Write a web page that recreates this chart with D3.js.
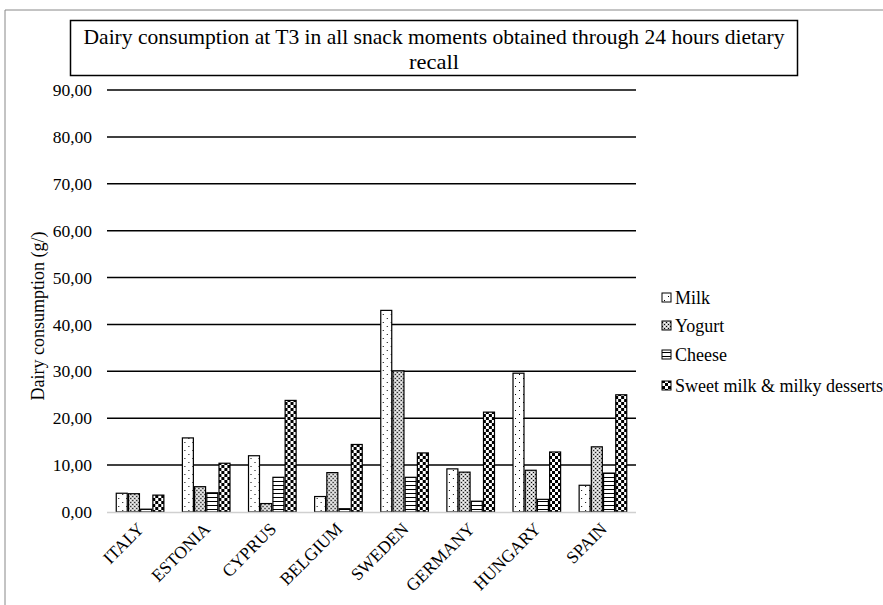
<!DOCTYPE html>
<html><head><meta charset="utf-8">
<script src="https://cdn.jsdelivr.net/npm/d3@7/dist/d3.min.js"></script>
<style>body{margin:0;background:#fff}svg{display:block}</style>
</head><body>
<svg id="c" width="883" height="605"></svg>
<script>
const categories = ["ITALY","ESTONIA","CYPRUS","BELGIUM","SWEDEN","GERMANY","HUNGARY","SPAIN"];
const seriesNames = ["Milk","Yogurt","Cheese","Sweet milk & milky desserts"];
const milk   = [4.0, 15.8, 12.0, 3.3, 43.0, 9.2, 29.6, 5.7];
const yogurt = [3.9, 5.4, 1.8, 8.4, 30.1, 8.5, 8.9, 13.9];
const cheese = [0.6, 4.1, 7.4, 0.7, 7.4, 2.3, 2.7, 8.3];
const sweet  = [3.6, 10.4, 23.8, 14.4, 12.6, 21.3, 12.8, 25.0];
const yTicks = [0,10,20,30,40,50,60,70,80,90];
const title1 = "Dairy consumption at T3 in all snack moments obtained through 24 hours dietary";
const title2 = "recall";
const yLabel = "Dairy consumption (g/)";

const series = [milk, yogurt, cheese, sweet];
const svg = d3.select("#c");
const font = "'Liberation Serif','Times New Roman',serif";

// patterns
const defs = svg.append("defs");
let p = defs.append("pattern").attr("id","p0").attr("patternUnits","userSpaceOnUse").attr("width",8).attr("height",8);
p.append("rect").attr("width",8).attr("height",8).attr("fill","#fff");
p.append("rect").attr("x",2).attr("y",2).attr("width",1).attr("height",1).attr("fill","#000");
p.append("rect").attr("x",6).attr("y",6).attr("width",1).attr("height",1).attr("fill","#000");
p = defs.append("pattern").attr("id","p1").attr("patternUnits","userSpaceOnUse").attr("width",4).attr("height",4);
p.append("rect").attr("width",4).attr("height",4).attr("fill","#c8c8c8");
p.append("rect").attr("x",0).attr("y",0).attr("width",1).attr("height",1).attr("fill","#000");
p.append("rect").attr("x",2).attr("y",2).attr("width",1).attr("height",1).attr("fill","#000");
p.append("rect").attr("x",2).attr("y",0).attr("width",1).attr("height",1).attr("fill","#fff");
p.append("rect").attr("x",0).attr("y",2).attr("width",1).attr("height",1).attr("fill","#fff");
p = defs.append("pattern").attr("id","p2").attr("patternUnits","userSpaceOnUse").attr("width",4).attr("height",4);
p.append("rect").attr("width",4).attr("height",4).attr("fill","#fff");
p.append("rect").attr("x",0).attr("y",1).attr("width",4).attr("height",1).attr("fill","#000");
p = defs.append("pattern").attr("id","p3").attr("patternUnits","userSpaceOnUse").attr("width",6).attr("height",6);
p.append("rect").attr("width",6).attr("height",6).attr("fill","#fff");
p.append("rect").attr("x",0).attr("y",0).attr("width",3).attr("height",3).attr("fill","#000");
p.append("rect").attr("x",3).attr("y",3).attr("width",3).attr("height",3).attr("fill","#000");

// outer frame
svg.append("path").attr("d","M5,605 V10 H883").attr("fill","none").attr("stroke","#888").attr("stroke-width",1);

const x0 = 107, x1 = 636, yTop = 90, yBot = 512;
const x = d3.scaleBand().domain(categories).range([x0,x1]).paddingInner(0.28).paddingOuter(0.14);
const xs = d3.scaleBand().domain(d3.range(4)).range([0, x.bandwidth()]).paddingInner(0.1);
const y = d3.scaleLinear().domain([0,90]).range([yBot,yTop]);

// gridlines
svg.append("g").selectAll("line").data(yTicks.filter(d=>d>0)).join("line")
  .attr("x1",x0).attr("x2",x1).attr("y1",d=>y(d)).attr("y2",d=>y(d))
  .attr("stroke","#000").attr("stroke-width",1.5);

// y axis labels
const yAxis = d3.axisLeft(y).tickValues(yTicks).tickSize(0).tickPadding(15)
  .tickFormat(d=>d3.format(".2f")(d).replace(".",","));
const ga = svg.append("g").attr("transform",`translate(${x0},0)`).call(yAxis);
ga.select(".domain").remove();
ga.selectAll("text").attr("font-family",font).attr("font-size",17.5).attr("fill","#000");

// bars
const groups = svg.append("g").selectAll("g").data(categories).join("g")
  .attr("transform",d=>`translate(${x(d)},0)`);
groups.selectAll("rect").data((c,i)=>series.map((s,k)=>({k, v:s[i]}))).join("rect")
  .attr("x",d=>xs(d.k)).attr("width",xs.bandwidth())
  .attr("y",d=>y(d.v)).attr("height",d=>yBot-y(d.v))
  .attr("fill",d=>`url(#p${d.k})`).attr("stroke","#000").attr("stroke-width",1.2);

// baseline
svg.append("line").attr("x1",x0).attr("x2",x1).attr("y1",yBot+0.5).attr("y2",yBot+0.5)
  .attr("stroke","#d0d0d0").attr("stroke-width",1.5);

// x labels
const xAxis = d3.axisBottom(x).tickSize(0).tickPadding(0);
const gx = svg.append("g").attr("transform",`translate(0,${yBot})`).call(xAxis);
gx.select(".domain").remove();
gx.selectAll("text").attr("font-family",font).attr("font-size",17.5).attr("fill","#000")
  .attr("text-anchor","end").attr("dy",0)
  .attr("transform","translate(5,18) rotate(-45)");

// y label
svg.append("text").attr("transform","translate(44,316) rotate(-90)")
  .attr("text-anchor","middle").attr("font-family",font).attr("font-size",18).attr("fill","#000").text(yLabel);

// title
svg.append("rect").attr("x",70.5).attr("y",20.5).attr("width",727).attr("height",55)
  .attr("fill","#fff").attr("stroke","#000").attr("stroke-width",1.5);
svg.append("text").attr("x",434).attr("y",44).attr("text-anchor","middle").attr("font-family",font)
  .attr("font-size",21).attr("textLength",701).attr("lengthAdjust","spacingAndGlyphs").text(title1);
svg.append("text").attr("x",434).attr("y",69).attr("text-anchor","middle").attr("font-family",font)
  .attr("font-size",21).attr("textLength",50).attr("lengthAdjust","spacingAndGlyphs").text(title2);

// legend
const lg = svg.append("g").selectAll("g").data(seriesNames).join("g")
  .attr("transform",(d,i)=>`translate(662,${[298,326,355,386][i]})`);
lg.append("rect").attr("x",0).attr("y",-5).attr("width",9).attr("height",9)
  .attr("fill",(d,i)=>`url(#p${i})`).attr("stroke","#000").attr("stroke-width",1);
lg.append("text").attr("x",13).attr("y",6).attr("font-family",font).attr("font-size",18).text(d=>d);
</script>
</body></html>
